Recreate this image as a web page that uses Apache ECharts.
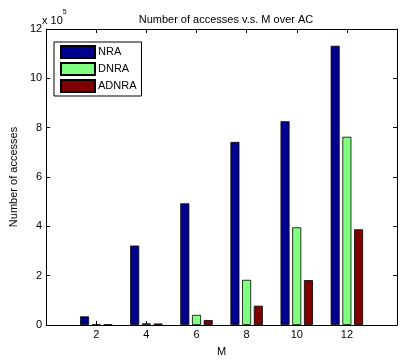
<!DOCTYPE html>
<html>
<head>
<meta charset="utf-8">
<script src="https://cdn.jsdelivr.net/npm/echarts@6/dist/echarts.min.js"></script>
<style>
  html, body { margin: 0; padding: 0; background: #fff; }
  #chart { width: 400px; height: 362px; }
</style>
</head>
<body>
<div id="chart"></div>
<script>
// Group positions along M and access counts for each method
const mValues = [2, 4, 6, 8, 10, 12];
const nra   = [35000, 322000, 493000, 742000, 826000, 1132000];
const dnra  = [2000, 7000, 41000, 183000, 396000, 763000];
const adnra = [2000, 6000, 20000, 78000, 182000, 388000];
const seriesNames = ['NRA', 'DNRA', 'ADNRA'];
const xTicks = [0, 2, 4, 6, 8, 10, 12, 14];
const yTicks = [0, 2, 4, 6, 8, 10, 12]; // in units of 1e5

const font = 'Liberation Sans, Arial, Helvetica, sans-serif';
const chart = echarts.init(document.getElementById('chart'), null, { renderer: 'canvas' });

function pairs(vals) { return mValues.map((m, i) => [m, vals[i]]); }

const axisCommon = {
  axisLine: { show: true, onZero: false, lineStyle: { color: '#000', width: 1 } },
  axisTick: { show: true, inside: true, length: 4, lineStyle: { color: '#000' } },
  splitLine: { show: false }
};

const colors = ['#00008f', '#80ff80', '#800000'];
const values = [nra, dnra, adnra];

chart.setOption({
  animation: false,
  backgroundColor: '#fff',
  title: {
    text: 'Number of accesses v.s. M over AC',
    left: 221, top: 9, textAlign: 'center',
    textStyle: { fontFamily: font, fontSize: 11, fontWeight: 'normal', color: '#000' }
  },
  legend: {
    orient: 'vertical',
    left: 54, top: 42,
    itemWidth: 34, itemHeight: 12, itemGap: 3,
    padding: [3, 5, 3, 6],
    borderColor: '#000', borderWidth: 1,
    backgroundColor: '#fff',
    icon: 'rect',
    data: seriesNames,
    textStyle: { fontFamily: font, fontSize: 11, color: '#000', padding: [0, 0, 0, -2] }
  },
  grid: { left: 42, width: 360, top: 29, bottom: 31, containLabel: false },
  xAxis: [
    Object.assign({}, axisCommon, {
      type: 'value', min: xTicks[0], max: xTicks[xTicks.length - 1], interval: 2,
      position: 'bottom',
      name: 'M', nameLocation: 'middle', nameGap: 21,
      nameTextStyle: { fontFamily: font, fontSize: 11, color: '#000' },
      axisLabel: {
        fontFamily: font, fontSize: 11, color: '#000', margin: 4,
        formatter: v => (v === xTicks[0] || v === xTicks[xTicks.length - 1]) ? '' : String(v)
      }
    }),
    Object.assign({}, axisCommon, {
      type: 'value', min: xTicks[0], max: xTicks[xTicks.length - 1], interval: 2,
      position: 'top', axisLabel: { show: false }
    })
  ],
  yAxis: [
    Object.assign({}, axisCommon, {
      type: 'value', min: 0, max: yTicks[yTicks.length - 1] * 1e5, interval: 2e5,
      name: 'Number of accesses', nameLocation: 'middle', nameGap: 21,
      nameTextStyle: { fontFamily: font, fontSize: 11, color: '#000' },
      axisLabel: {
        fontFamily: font, fontSize: 11, color: '#000', margin: 4,
        formatter: v => String(Math.round(v / 1e5))
      }
    }),
    Object.assign({}, axisCommon, {
      type: 'value', min: 0, max: yTicks[yTicks.length - 1] * 1e5, interval: 2e5,
      position: 'right', axisLabel: { show: false }
    })
  ],
  series: seriesNames.map((name, k) => ({
    name: name,
    type: 'bar',
    xAxisIndex: 0,
    yAxisIndex: 0,
    data: pairs(values[k]),
    barWidth: 9,
    barGap: '30%',
    itemStyle: { color: colors[k], borderColor: '#000', borderWidth: 0.8 }
  })),
  graphic: [{
    type: 'text',
    left: 42, top: 9,
    style: {
      text: '{a|x 10}{b|5}',
      rich: {
        a: { fontFamily: font, fontSize: 11, fill: '#000', padding: [6, 0, 0, 0] },
        b: { fontFamily: font, fontSize: 7, fill: '#000', verticalAlign: 'top' }
      }
    }
  }]
});
</script>
</body>
</html>
